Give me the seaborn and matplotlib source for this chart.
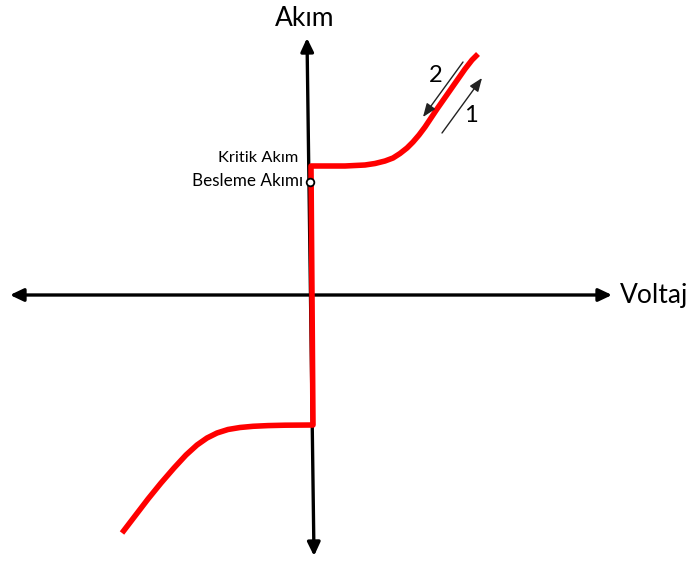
import matplotlib
matplotlib.use("Agg")
import matplotlib.pyplot as plt
import seaborn as sns
import pandas as pd

# Current-voltage characteristic (voltage to the right, current upward)
voltage = [-190, -177, -164, -151, -138, -126, -115, -105, -95, -84, -72, -59, -44, -27, 1,
           -1, 20, 33, 43, 53, 63, 73, 81, 88, 95, 101, 107, 113, 119, 125,
           132, 139, 146, 153, 160, 166]
current = [-238, -221, -204, -188, -173, -160, -150, -143, -138, -134.5, -132.5, -131.3,
           -130.6, -130.2, -130,
           129, 129, 129, 129.5, 130, 131.5, 134, 137, 141.5, 147, 153, 160, 168, 177, 186,
           196, 206, 216, 226, 235, 241]

# Axis arrows: (start, end) in the same units
x_axis = [(-302, 0), (300, 0)]
y_axis = [(2, -261), (-5, 257)]
axis_titles = ["Voltaj", "Akım"]

# Marked levels on the current axis
level_labels = ["Kritik Akım", "Besleme Akımı"]
level_values = [137, 113]
supply_point = (-2, 113)

# Sweep direction arrows and their numbers
sweep_up = [(130, 162), (170, 217)]
sweep_down = [(151, 233), (111, 178)]
sweep_labels = ["1", "2"]
sweep_label_pos = [(159, 179), (124, 220)]

sns.set_style("white")
plt.rcParams["font.family"] = ["Lato", "DejaVu Sans"]
plt.rcParams["text.color"] = "black"

fig = plt.figure(figsize=(6.89, 5.63), dpi=100)
ax = fig.add_axes([0, 0, 1, 1])

axis_style = dict(arrowstyle="<|-|>,head_length=0.8,head_width=0.38",
                  color="black", lw=2.4, shrinkA=0, shrinkB=0, mutation_scale=10)
ax.annotate("", xy=x_axis[1], xytext=x_axis[0], arrowprops=axis_style, zorder=2)
ax.annotate("", xy=y_axis[1], xytext=y_axis[0], arrowprops=axis_style, zorder=2)

df = pd.DataFrame({"Voltaj": voltage, "Akım": current})
sns.lineplot(data=df, x="Voltaj", y="Akım", sort=False, estimator=None,
             color="#ff0000", lw=4, ax=ax, zorder=3,
             solid_joinstyle="round", solid_capstyle="butt")
ax.axis("off")
ax.set_xlim(-312, 377)
ax.set_ylim(-268, 295)

ax.text(x_axis[1][0] + 8, 0, axis_titles[0], fontsize=19, ha="left", va="center")
ax.text(y_axis[1][0] - 2, y_axis[1][1] + 20, axis_titles[1], fontsize=19,
        ha="center", va="center")

ax.text(-14, level_values[0], level_labels[0], fontsize=11.8, ha="right", va="center")
ax.text(-9, level_values[1] + 1, level_labels[1], fontsize=12.3, ha="right", va="center")
ax.plot(*supply_point, marker="o", ms=5.5, mfc="white", mec="black", mew=1.3, zorder=4)

thin = dict(arrowstyle="-|>,head_length=0.9,head_width=0.35", color="#222222",
            lw=1.0, shrinkA=0, shrinkB=0, mutation_scale=9)
ax.annotate("", xy=sweep_up[1], xytext=sweep_up[0], arrowprops=thin)
ax.annotate("", xy=sweep_down[1], xytext=sweep_down[0], arrowprops=thin)
for lab, (lx, ly) in zip(sweep_labels, sweep_label_pos):
    ax.text(lx, ly, lab, fontsize=17, ha="center", va="center")

fig.savefig("out.png", dpi=100)
